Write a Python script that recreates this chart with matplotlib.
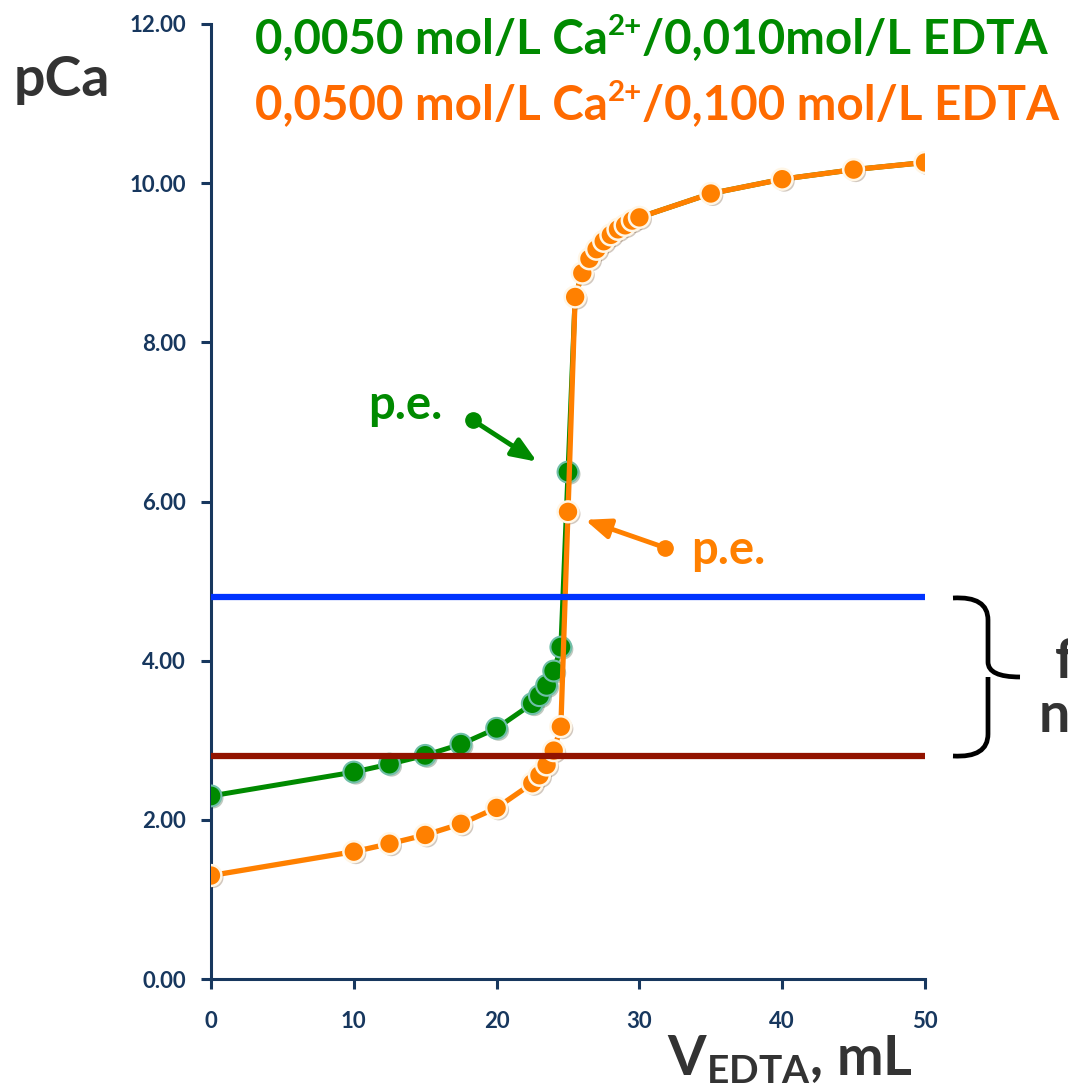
import numpy as np
import matplotlib
matplotlib.use('Agg')
import matplotlib.pyplot as plt
import matplotlib.patheffects as pe
from matplotlib.path import Path
from matplotlib.patches import PathPatch

plt.rcParams['font.family'] = ['Lato', 'DejaVu Sans']
plt.rcParams['font.weight'] = 'bold'
plt.rcParams['mathtext.fontset'] = 'custom'
plt.rcParams['mathtext.rm'] = 'Lato:bold'
plt.rcParams['mathtext.bf'] = 'Lato:bold'
plt.rcParams['mathtext.it'] = 'Lato:bold'
plt.rcParams['mathtext.default'] = 'bf'

# volume de EDTA (mL) e pCa
v_edta = [0, 10, 12.5, 15, 17.5, 20, 22.5, 23, 23.5, 24, 24.5, 25,
          25.5, 26, 26.5, 27, 27.5, 28, 28.5, 29, 29.5, 30, 35, 40, 45, 50]
pca_dil = [2.30, 2.60, 2.70, 2.81, 2.95, 3.15, 3.46, 3.56, 3.69, 3.87, 4.17, 6.37,
           8.57, 8.87, 9.05, 9.17, 9.27, 9.35, 9.42, 9.47, 9.53, 9.57, 9.87, 10.05, 10.17, 10.26]
pca_conc = [1.30, 1.60, 1.70, 1.81, 1.95, 2.15, 2.46, 2.56, 2.69, 2.87, 3.17, 5.87,
            8.57, 8.87, 9.05, 9.17, 9.27, 9.35, 9.42, 9.47, 9.53, 9.57, 9.87, 10.05, 10.17, 10.26]

# limites da faixa do indicador
faixa_sup = 4.80
faixa_inf = 2.80

verde = '#008a00'
laranja = '#ff8000'
navy = '#17375e'
cinza = '#333333'

W, H = 1068, 1086
fig = plt.figure(figsize=(W/100, H/100), dpi=100)
ax = fig.add_axes([211/W, 1-979/H, 714/W, 955/H])
renderer = fig.canvas.get_renderer()

sombra = [pe.SimplePatchShadow(offset=(1.5, -1.5), alpha=0.25), pe.Normal()]

# curva diluida (verde) primeiro, a concentrada fica por cima
ax.plot(v_edta, pca_dil, color=verde, lw=3.6, zorder=2, solid_capstyle='round')
ax.plot(v_edta[:12], pca_dil[:12], ls='none', marker='o', ms=15, mfc=verde,
        mec='#6fbfa8', mew=1.5, zorder=3, path_effects=sombra)
ax.plot(v_edta, pca_conc, color=laranja, lw=3.8, zorder=4, solid_capstyle='round')
ax.plot(v_edta, pca_conc, ls='none', marker='o', ms=15, mfc=laranja,
        mec='#fff6e6', mew=1.8, zorder=5, path_effects=sombra)

ax.plot([0, 50], [faixa_sup, faixa_sup], color='#0033ff', lw=4.5, zorder=6,
        solid_capstyle='butt', clip_on=False)
ax.plot([0, 50], [faixa_inf, faixa_inf], color='#921300', lw=4.5, zorder=6,
        solid_capstyle='butt', clip_on=False)

ax.set_xlim(0, 50)
ax.set_ylim(0, 12)
ax.set_xticks([0, 10, 20, 30, 40, 50])
ax.set_yticks(np.arange(0, 13, 2))
ax.set_yticklabels(['%.2f' % t for t in np.arange(0, 13, 2)])
for s in ['top', 'right']:
    ax.spines[s].set_visible(False)
for s in ['left', 'bottom']:
    ax.spines[s].set_color(navy)
    ax.spines[s].set_linewidth(2.2)
ax.tick_params(direction='out', length=7, width=2.2, color=navy,
               labelcolor=navy, labelsize=16)
ax.tick_params(axis='x', pad=16)
ax.tick_params(axis='y', pad=11)
for lb in ax.get_xticklabels() + ax.get_yticklabels():
    lb.set_fontweight('bold')

# setas de ponto de equivalencia
seta = '-|>,head_length=1.5,head_width=0.6'
ax.annotate('', xy=(22.83, 6.50), xytext=(18.35, 7.02),
            arrowprops=dict(arrowstyle=seta, color=verde, lw=3.5, shrinkA=0, shrinkB=0))
ax.plot([18.35], [7.02], 'o', ms=11, color=verde, clip_on=False)
ax.annotate('', xy=(26.19, 5.77), xytext=(31.79, 5.42),
            arrowprops=dict(arrowstyle=seta, color=laranja, lw=3.5, shrinkA=0, shrinkB=0))
ax.plot([31.79], [5.42], 'o', ms=11, color=laranja, clip_on=False)

fig.text(405/W, 1-405/H, 'p.e.', color=verde, fontsize=34, fontweight='bold',
         ha='center', va='center')
fig.text(728/W, 1-550/H, 'p.e.', color=laranja, fontsize=34, fontweight='bold',
         ha='center', va='center')


def linha_rica(x, y, partes, cor, tam):
    # escreve pedacos lado a lado, os marcados como True ficam sobrescritos
    for s, sup in partes:
        if sup:
            t = fig.text(x, y + 18/H, s, color=cor, fontsize=tam*0.62,
                         fontweight='bold', ha='left', va='baseline')
        else:
            t = fig.text(x, y, s, color=cor, fontsize=tam,
                         fontweight='bold', ha='left', va='baseline')
        x += t.get_window_extent(renderer).width / W


linha_rica(255/W, 1-53/H, [('0,0050 mol/L Ca', False), ('2+', True),
                           ('/0,010mol/L EDTA', False)], verde, 34.2)
linha_rica(255/W, 1-119/H, [('0,0500 mol/L Ca', False), ('2+', True),
                            ('/0,100 mol/L EDTA', False)], '#ff6a00', 34.2)

fig.text(62/W, 1-80/H, 'pCa', color=cinza, fontsize=40, fontweight='bold',
         ha='center', va='center')
fig.text(790/W, 1-1060/H, 'V$_{EDTA}$, mL', color=cinza, fontsize=40,
         fontweight='bold', ha='center', va='center')


# chave da faixa
def px(x, y):
    return (x/W, 1-y/H)


verts = [px(953, 598), px(988, 596), px(988, 620),
         px(988, 662),
         px(988, 677), px(1020, 677),
         px(988, 677), px(988, 692),
         px(988, 734),
         px(988, 758), px(953, 756)]
codes = [Path.MOVETO, Path.CURVE3, Path.CURVE3,
         Path.LINETO,
         Path.CURVE3, Path.CURVE3,
         Path.MOVETO, Path.CURVE3,
         Path.LINETO,
         Path.CURVE3, Path.CURVE3]
brace = PathPatch(Path(verts, codes), transform=fig.transFigure, fill=False,
                  lw=3.4, ec='black', capstyle='butt', joinstyle='round')
fig.add_artist(brace)

fig.text(1055/W, 1-662/H, 'faixa de', color=cinza, fontsize=40,
         fontweight='bold', ha='left', va='center')
fig.text(1039/W, 1-716/H, 'nitidez', color=cinza, fontsize=40,
         fontweight='bold', ha='left', va='center')

fig.savefig('out.png', dpi=100)
